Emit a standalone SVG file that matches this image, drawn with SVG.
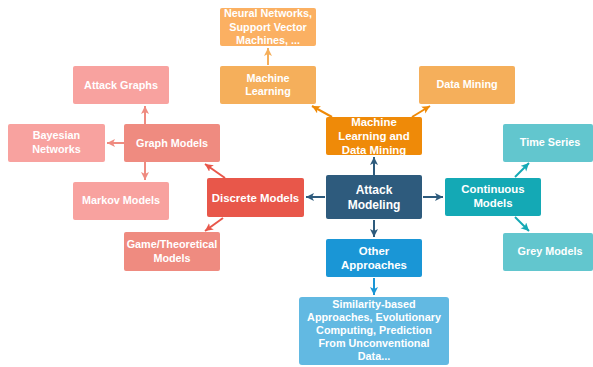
<svg xmlns="http://www.w3.org/2000/svg" width="593" height="367" viewBox="0 0 593 367">
<style>
text{font-family:"Liberation Sans",Arial,sans-serif;font-weight:bold;fill:#fff;text-anchor:middle}
.leaf{font-size:10.8px}
.cat{font-size:11.4px}
.root{font-size:12px}
.c line{stroke-width:2;fill:none}
</style>
<defs>
<marker id="aDark" markerUnits="userSpaceOnUse" markerWidth="9" markerHeight="9" refX="8" refY="4" orient="auto"><path d="M0,0 L8,4 L0,8 L2,4 Z" fill="#2E5B7D"/></marker>
<marker id="aOrange" markerUnits="userSpaceOnUse" markerWidth="9" markerHeight="9" refX="8" refY="4" orient="auto"><path d="M0,0 L8,4 L0,8 L2,4 Z" fill="#EF8A08"/></marker>
<marker id="aLOrange" markerUnits="userSpaceOnUse" markerWidth="9" markerHeight="9" refX="8" refY="4" orient="auto"><path d="M0,0 L8,4 L0,8 L2,4 Z" fill="#F5AF5B"/></marker>
<marker id="aPink" markerUnits="userSpaceOnUse" markerWidth="9" markerHeight="9" refX="8" refY="4" orient="auto"><path d="M0,0 L8,4 L0,8 L2,4 Z" fill="#EF8B80"/></marker>
<marker id="aRed" markerUnits="userSpaceOnUse" markerWidth="9" markerHeight="9" refX="8" refY="4" orient="auto"><path d="M0,0 L8,4 L0,8 L2,4 Z" fill="#E8574A"/></marker>
<marker id="aTeal" markerUnits="userSpaceOnUse" markerWidth="9" markerHeight="9" refX="8" refY="4" orient="auto"><path d="M0,0 L8,4 L0,8 L2,4 Z" fill="#14A9B5"/></marker>
<marker id="aBlue" markerUnits="userSpaceOnUse" markerWidth="9" markerHeight="9" refX="8" refY="4" orient="auto"><path d="M0,0 L8,4 L0,8 L2,4 Z" fill="#1A96D6"/></marker>
</defs>

<g id="connectors" class="c">
<line x1="268" y1="65" x2="268" y2="48" stroke="#F5AF5B" marker-end="url(#aLOrange)"/>
<line x1="145" y1="124" x2="145" y2="106" stroke="#EF8B80" marker-end="url(#aPink)"/>
<line x1="124" y1="143" x2="107" y2="143" stroke="#EF8B80" marker-end="url(#aPink)"/>
<line x1="145" y1="162" x2="145" y2="180" stroke="#EF8B80" marker-end="url(#aPink)"/>
<line x1="225" y1="178" x2="205" y2="164" stroke="#E8574A" marker-end="url(#aRed)"/>
<line x1="223" y1="218" x2="205" y2="231" stroke="#E8574A" marker-end="url(#aRed)"/>
<line x1="325" y1="197" x2="306" y2="197" stroke="#2E5B7D" marker-end="url(#aDark)"/>
<line x1="423" y1="197" x2="443" y2="197" stroke="#2E5B7D" marker-end="url(#aDark)"/>
<line x1="374" y1="175" x2="374" y2="157" stroke="#2E5B7D" marker-end="url(#aDark)"/>
<line x1="374" y1="220" x2="374" y2="237" stroke="#2E5B7D" marker-end="url(#aDark)"/>
<line x1="374" y1="278" x2="374" y2="295" stroke="#1A96D6" marker-end="url(#aBlue)"/>
<line x1="332" y1="117" x2="312" y2="106" stroke="#EF8A08" marker-end="url(#aOrange)"/>
<line x1="412" y1="117" x2="430" y2="106" stroke="#EF8A08" marker-end="url(#aOrange)"/>
<line x1="515" y1="177" x2="529" y2="163" stroke="#14A9B5" marker-end="url(#aTeal)"/>
<line x1="515" y1="217" x2="529" y2="231" stroke="#14A9B5" marker-end="url(#aTeal)"/>
</g>

<g id="neural"><rect x="220" y="8" width="96" height="38" rx="2" fill="#FBB062"/>
<text class="leaf" x="268" y="17.3">Neural Networks,</text>
<text class="leaf" x="268" y="30.5">Support Vector</text>
<text class="leaf" x="268" y="44">Machines, ...</text></g>

<g id="ml"><rect x="220" y="66" width="96" height="38" rx="2" fill="#F5AF5B"/>
<text class="leaf" x="268" y="82.3">Machine</text>
<text class="leaf" x="268" y="95.3">Learning</text></g>

<g id="attackGraphs"><rect x="73" y="66" width="96" height="38" rx="2" fill="#F8A29F"/>
<text class="leaf" x="121" y="88.8">Attack Graphs</text></g>

<g id="dataMining"><rect x="419" y="66" width="96" height="38" rx="2" fill="#F5AF5B"/>
<text class="leaf" x="467" y="88">Data Mining</text></g>

<g id="bayesian"><rect x="8" y="124" width="97" height="38" rx="2" fill="#F8A29F"/>
<text class="leaf" x="56.5" y="139.3">Bayesian</text>
<text class="leaf" x="56.5" y="152.8">Networks</text></g>

<g id="graphModels"><rect x="124" y="124" width="96" height="38" rx="2" fill="#EF8B80"/>
<text class="leaf" x="172" y="146.5">Graph Models</text></g>

<g id="mldm"><rect x="326" y="117" width="96" height="38" rx="2" fill="#EF8A08"/>
<text class="cat" x="374" y="126">Machine</text>
<text class="cat" x="374" y="140">Learning and</text>
<text class="cat" x="374" y="153.5">Data Mining</text></g>

<g id="timeSeries"><rect x="503" y="124" width="90" height="38" rx="2" fill="#62C6CE"/>
<text class="leaf" x="550" y="146">Time Series</text></g>

<g id="markov"><rect x="73" y="182" width="96" height="38" rx="2" fill="#F8A29F"/>
<text class="leaf" x="121" y="204">Markov Models</text></g>

<g id="discrete"><rect x="207" y="178" width="97" height="39" rx="2" fill="#E8574A"/>
<text class="cat" x="255.5" y="202">Discrete Models</text></g>

<g id="attack"><rect x="326" y="175" width="96" height="44" rx="2" fill="#2E5B7D"/>
<text class="root" x="374" y="194.3">Attack</text>
<text class="root" x="374" y="209.3">Modeling</text></g>

<g id="continuous"><rect x="445" y="178" width="96" height="38" rx="2" fill="#14A9B5"/>
<text class="cat" x="493" y="193">Continuous</text>
<text class="cat" x="493" y="207">Models</text></g>

<g id="gameTheory"><rect x="124" y="232" width="96" height="39" rx="2" fill="#EF8B80"/>
<text class="leaf" x="172" y="247.8">Game/Theoretical</text>
<text class="leaf" x="172" y="261.8">Models</text></g>

<g id="grey"><rect x="503" y="233" width="90" height="38" rx="2" fill="#62C6CE"/>
<text class="leaf" x="550" y="255">Grey Models</text></g>

<g id="other"><rect x="326" y="239" width="96" height="38" rx="2" fill="#1A96D6"/>
<text class="cat" x="374" y="255">Other</text>
<text class="cat" x="374" y="269">Approaches</text></g>

<g id="similarity"><rect x="299" y="297" width="150" height="68" rx="3" fill="#62B9E2"/>
<text class="leaf" x="374" y="307.8">Similarity-based</text>
<text class="leaf" x="374" y="320.8">Approaches, Evolutionary</text>
<text class="leaf" x="374" y="333.8">Computing, Prediction</text>
<text class="leaf" x="374" y="346.8">From Unconventional</text>
<text class="leaf" x="374" y="359.8">Data...</text></g>
</svg>
